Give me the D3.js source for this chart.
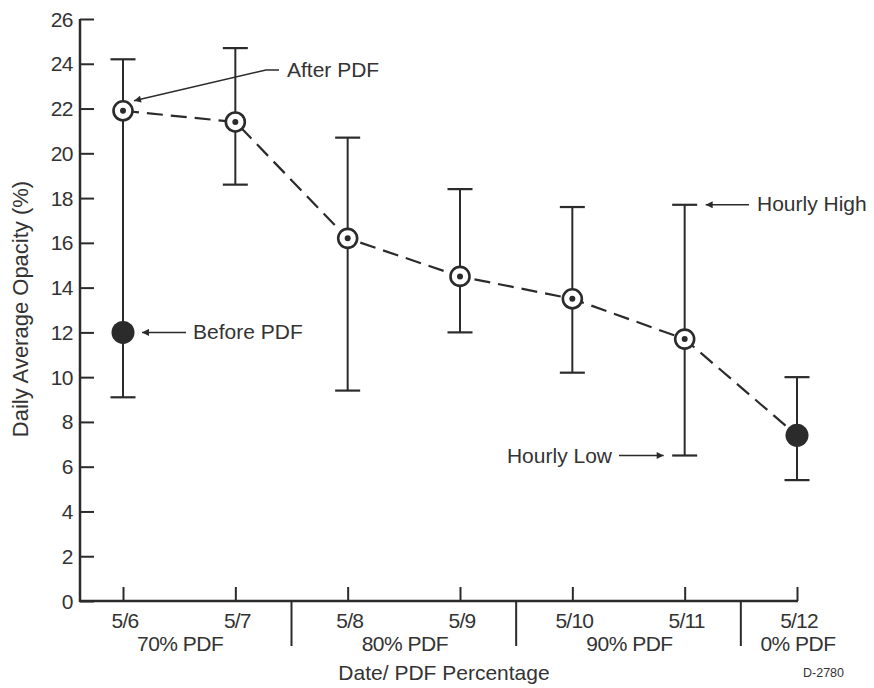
<!DOCTYPE html>
<html>
<head>
<meta charset="utf-8">
<script src="https://cdn.jsdelivr.net/npm/d3@7"></script>
<style>
  body { margin: 0; background: #fff; }
  svg text { font-family: "Liberation Sans", Arial, sans-serif; fill: #333; }
</style>
</head>
<body>
<svg id="chart" width="874" height="688"></svg>
<script>
  const dates = ['5/6', '5/7', '5/8', '5/9', '5/10', '5/11', '5/12'];
  const dailyAvg = [21.9, 21.4, 16.2, 14.5, 13.5, 11.7, 7.4];
  const hourlyHigh = [24.2, 24.7, 20.7, 18.4, 17.6, 17.7, 10.0];
  const hourlyLow = [9.1, 18.6, 9.4, 12.0, 10.2, 6.5, 5.4];
  const beforePdf = { date: '5/6', value: 12.0 };
  const bandLabels = ['70% PDF', '80% PDF', '90% PDF', '0% PDF'];
  const bandDates = [['5/6', '5/7'], ['5/8', '5/9'], ['5/10', '5/11'], ['5/12']];
  const yTicks = d3.range(0, 27, 2);

  const ink = '#2b2b2b';
  const svg = d3.select('#chart');

  let x = d3.scalePoint().domain(dates).range([123, 797]);
  let y = d3.scaleLinear().domain([0, 26]).range([601, 19]);
  let step = x.step();

  // y axis, ticks pointing inward
  let yAxis = svg.append('g')
    .attr('transform', 'translate(80,0)')
    .call(d3.axisRight(y).tickValues(yTicks).tickSize(14).tickFormat(''));
  yAxis.select('.domain').remove();
  yAxis.selectAll('line').attr('stroke', ink).attr('stroke-width', 2);

  svg.append('line')
    .attr('x1', 80).attr('x2', 80)
    .attr('y1', y(0) + 1).attr('y2', y(26))
    .attr('stroke', ink).attr('stroke-width', 2.5);

  svg.append('g').selectAll('text')
    .data(yTicks)
    .enter()
    .append('text')
    .attr('x', 73)
    .attr('y', d => y(d) + 7.5)
    .attr('text-anchor', 'end')
    .style('font-size', '21px')
    .style('letter-spacing', '-0.5px')
    .text(d => d);

  // x axis, ticks pointing up
  let xAxis = svg.append('g')
    .attr('transform', 'translate(0,' + y(0) + ')')
    .call(d3.axisTop(x).tickSize(14).tickFormat(''));
  xAxis.select('.domain').remove();
  xAxis.selectAll('line').attr('stroke', ink).attr('stroke-width', 2);

  svg.append('line')
    .attr('x1', 79).attr('x2', x('5/12') + 1)
    .attr('y1', y(0)).attr('y2', y(0))
    .attr('stroke', ink).attr('stroke-width', 2.5);

  svg.append('g').selectAll('text')
    .data(dates)
    .enter()
    .append('text')
    .attr('x', d => x(d) + 2)
    .attr('y', y(0) + 27)
    .attr('text-anchor', 'middle')
    .style('font-size', '21px')
    .style('letter-spacing', '-0.8px')
    .text(d => d);

  // separators between PDF bands
  let seps = bandDates.slice(1).map(b => x(b[0]) - step / 2);
  svg.append('g').selectAll('line')
    .data(seps)
    .enter()
    .append('line')
    .attr('x1', d => d).attr('x2', d => d)
    .attr('y1', y(0)).attr('y2', y(0) + 45)
    .attr('stroke', ink).attr('stroke-width', 2);

  svg.append('g').selectAll('text')
    .data(bandLabels)
    .enter()
    .append('text')
    .attr('x', (d, i) => d3.mean(bandDates[i], k => x(k)) + 1)
    .attr('y', y(0) + 50)
    .attr('text-anchor', 'middle')
    .style('font-size', '21px')
    .style('letter-spacing', '-0.5px')
    .text(d => d);

  svg.append('text')
    .attr('x', 444).attr('y', y(0) + 79)
    .attr('text-anchor', 'middle')
    .style('font-size', '21px')
    .text('Date/ PDF Percentage');

  svg.append('text')
    .attr('x', 844).attr('y', 677)
    .attr('text-anchor', 'end')
    .style('font-size', '12.5px')
    .text('D-2780');

  svg.append('text')
    .attr('transform', 'translate(28,' + 309 + ') rotate(-90)')
    .attr('text-anchor', 'middle')
    .style('font-size', '22px')
    .text('Daily Average Opacity (%)');

  // error bars
  let bars = svg.append('g').selectAll('g')
    .data(dates)
    .enter()
    .append('g');
  bars.append('line')
    .attr('x1', d => x(d)).attr('x2', d => x(d))
    .attr('y1', (d, i) => y(hourlyHigh[i]))
    .attr('y2', (d, i) => y(hourlyLow[i]))
    .attr('stroke', ink).attr('stroke-width', 2);
  bars.append('line')
    .attr('x1', d => x(d) - 12.5).attr('x2', d => x(d) + 12.5)
    .attr('y1', (d, i) => y(hourlyHigh[i]))
    .attr('y2', (d, i) => y(hourlyHigh[i]))
    .attr('stroke', ink).attr('stroke-width', 2.2);
  bars.append('line')
    .attr('x1', d => x(d) - 12.5).attr('x2', d => x(d) + 12.5)
    .attr('y1', (d, i) => y(hourlyLow[i]))
    .attr('y2', (d, i) => y(hourlyLow[i]))
    .attr('stroke', ink).attr('stroke-width', 2.2);

  // dashed daily average line
  let line = d3.line()
    .x((d, i) => x(dates[i]))
    .y(d => y(d));
  svg.append('path')
    .datum(dailyAvg)
    .attr('d', line)
    .attr('fill', 'none')
    .attr('stroke', ink)
    .attr('stroke-width', 2.2)
    .attr('stroke-dasharray', '16,8');

  // markers: open with dot for after PDF, filled for 0% / before
  let pts = dailyAvg.map((v, i) => ({ date: dates[i], value: v, filled: dates[i] === '5/12' }));
  let open = svg.append('g').selectAll('g')
    .data(pts.filter(d => !d.filled))
    .enter()
    .append('g');
  open.append('circle')
    .attr('cx', d => x(d.date)).attr('cy', d => y(d.value))
    .attr('r', 9.5)
    .attr('fill', '#fff')
    .attr('stroke', ink).attr('stroke-width', 2.6);
  open.append('circle')
    .attr('cx', d => x(d.date)).attr('cy', d => y(d.value))
    .attr('r', 3)
    .attr('fill', ink);

  svg.append('g').selectAll('circle')
    .data(pts.filter(d => d.filled).concat([beforePdf]))
    .enter()
    .append('circle')
    .attr('cx', d => x(d.date)).attr('cy', d => y(d.value))
    .attr('r', 11.5)
    .attr('fill', ink);

  // annotations
  svg.append('defs').append('marker')
    .attr('id', 'arrow')
    .attr('viewBox', '0 0 10 10')
    .attr('refX', 10).attr('refY', 5)
    .attr('markerWidth', 11).attr('markerHeight', 7)
    .attr('markerUnits', 'userSpaceOnUse')
    .attr('orient', 'auto')
    .append('path')
    .attr('d', 'M0,0 L10,5 L0,10 Z')
    .attr('fill', ink);

  let notes = [
    { text: 'After PDF', tx: 287, ty: 77, anchor: 'start', pts: [[279, 70], [266, 70], [x('5/6') + 11, y(dailyAvg[0]) - 10]] },
    { text: 'Before PDF', tx: 193, ty: 339, anchor: 'start', pts: [[186, y(beforePdf.value)], [x('5/6') + 19, y(beforePdf.value)]] },
    { text: 'Hourly High', tx: 757, ty: 211, anchor: 'start', pts: [[749, y(hourlyHigh[5])], [x('5/11') + 21, y(hourlyHigh[5])]] },
    { text: 'Hourly Low', tx: 612, ty: 463, anchor: 'end', pts: [[619, y(hourlyLow[5])], [x('5/11') - 21, y(hourlyLow[5])]] }
  ];

  notes.forEach(n => {
    svg.append('path')
      .attr('d', d3.line()(n.pts))
      .attr('fill', 'none')
      .attr('stroke', ink)
      .attr('stroke-width', 1.5)
      .attr('marker-end', 'url(#arrow)');
    svg.append('text')
      .attr('x', n.tx).attr('y', n.ty)
      .attr('text-anchor', n.anchor)
      .style('font-size', '21px')
      .text(n.text);
  });
</script>
</body>
</html>
